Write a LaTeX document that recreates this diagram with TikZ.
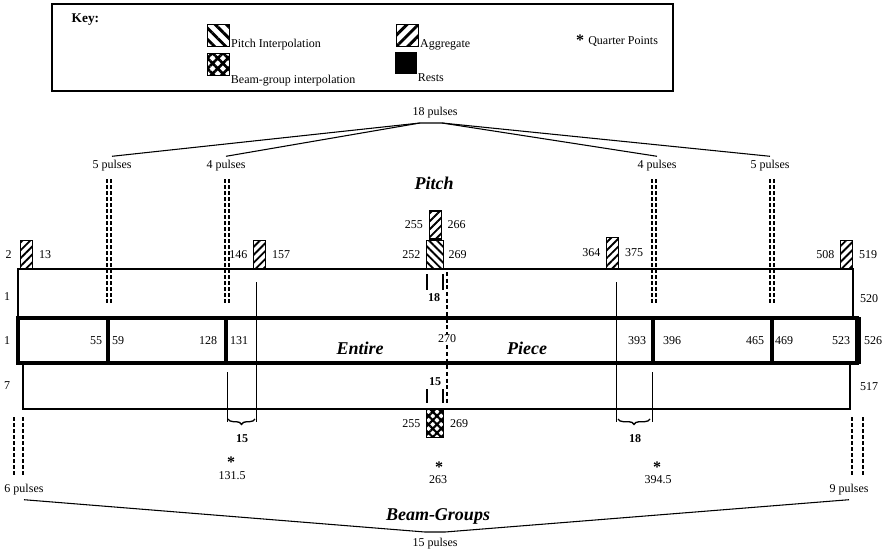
\documentclass[tikz,border=0pt]{standalone}
\usepackage{fontspec}
\setmainfont{Liberation Serif}
\usetikzlibrary{positioning,patterns.meta,decorations.pathreplacing}

\tikzset{
  lbl/.style={font=\fontsize{9}{10}\selectfont, inner sep=1pt},
  boldlbl/.style={font=\fontsize{9}{10}\selectfont\bfseries, inner sep=1pt},
  starlbl/.style={font=\fontsize{12}{12}\selectfont\bfseries, inner sep=0pt},
  bigtitle/.style={font=\fontsize{13.5}{15}\selectfont\bfseries\itshape},
  block/.style={draw, line width=1.1pt, inner sep=0pt, minimum width=9pt, minimum height=21pt, anchor=south west},
  aggbox/.style={block, pattern={Lines[angle=45,distance=4.2pt,line width=1.4pt]}},
  pintbox/.style={block, pattern={Lines[angle=-45,distance=4.2pt,line width=1.4pt]}},
  bintbox/.style={block, pattern={Hatch[angle=45,distance=4.5pt,line width=1.6pt]}},
  keyicon/.style={minimum width=16.5pt, minimum height=16.5pt, anchor=north west},
  pulsedash/.style={dash pattern=on 3pt off 1.5pt, line width=0.9pt},
}

\begin{document}
\begin{tikzpicture}[x=0.75pt,y=-0.75pt,line join=miter]
  \useasboundingbox (0,0) rectangle (887,556);
  \fill[white] (0,0) rectangle (887,556);

  % key
  \draw[line width=0.9pt] (52,4) rectangle (673,91);
  \node[font=\fontsize{10}{11}\selectfont\bfseries, anchor=west] (key) at (67,20) {Key:};
  \node[pintbox, keyicon, pattern={Lines[angle=-45,distance=6pt,line width=2.2pt]}] (kpint) at (206,23) {};
  \node[bintbox, keyicon, pattern={Hatch[angle=45,distance=5.5pt,line width=2pt]}] (kbint) at (206,52) {};
  \node[aggbox, keyicon, pattern={Lines[angle=45,distance=6pt,line width=2.2pt]}] (kagg) at (395,23) {};
  \node[keyicon, fill=black] (krest) at (395,52) {};
  \node[lbl, anchor=base west, inner sep=0pt] (tpint) at (kpint.south east) {Pitch Interpolation};
  \node[lbl, anchor=base west, inner sep=0pt] (tbint) at ([yshift=-5pt]kbint.south east) {Beam-group interpolation};
  \node[lbl, anchor=base west, inner sep=0pt] (tagg) at (kagg.south east) {Aggregate};
  \node[lbl, anchor=base west, inner sep=0pt] (trest) at ([yshift=-5pt]krest.south east) {Rests};
  \node[starlbl] (kstar) at (580,40) {*};
  \node[lbl, anchor=base west, inner sep=0pt] (tquart) at (588,45) {Quarter Points};

  % pulse groupings, pitch
  \node[lbl] (p18) at (435,113) {18 pulses};
  \coordinate (topL) at (420,123);
  \coordinate (topR) at (442,123);
  \node[lbl] (p5a) at (112,166) {5 pulses};
  \node[lbl] (p4a) at (226,166) {4 pulses};
  \node[lbl] (p4b) at (657,166) {4 pulses};
  \node[lbl] (p5b) at (770,166) {5 pulses};
  \draw[line width=0.8pt] ([yshift=2pt]p5a.north) -- (topL) -- (topR) -- ([yshift=2pt]p5b.north);
  \draw[line width=0.8pt] ([yshift=2pt]p4a.north) -- (topL);
  \draw[line width=0.8pt] (topR) -- ([yshift=2pt]p4b.north);
  \foreach \x in {107,111,225,229,652,656,770,774}
    \draw[pulsedash] (\x,179) -- (\x,304);
  \node[bigtitle] (tpitch) at (434,183) {Pitch};

  % bars
  \draw[line width=1.6pt] (18,269) rectangle (853,318);
  \draw[line width=1.1pt] (23,363) -- (23,409) -- (850,409) -- (850,363);
  \draw[line width=2.4pt] (18,318) rectangle (857,363);
  \foreach \x in {108,226,653,772}
    \fill (\x-2,318) rectangle (\x+2,363);
  \fill (855,317) rectangle (861,364);

  % bar end labels
  \node[lbl] (s1) at (7,297) {1};
  \node[lbl] (s2) at (7,341) {1};
  \node[lbl] (s3) at (7,386) {7};
  \node[lbl] (e1) at (869,299) {520};
  \node[lbl] (e2) at (873,341) {526};
  \node[lbl] (e3) at (869,387) {517};

  % entire piece numbers
  \node[lbl] (n55) at (96,341) {55};
  \node[lbl] (n59) at (118,341) {59};
  \node[lbl] (n128) at (208,341) {128};
  \node[lbl] (n131) at (239,341) {131};
  \node[lbl] (n393) at (637,341) {393};
  \node[lbl] (n396) at (672,341) {396};
  \node[lbl] (n465) at (755,341) {465};
  \node[lbl] (n469) at (784,341) {469};
  \node[lbl] (n523) at (841,341) {523};
  \node[bigtitle] (tentire) at (360,348) {Entire};
  \node[bigtitle] (tpiece) at (527,348) {Piece};

  % aggregates and interpolations
  \node[aggbox] (a2) at (20,269) {};
  \node[lbl, left=5pt of a2] (l2) {2};
  \node[lbl, right=3pt of a2] (l13) {13};
  \node[aggbox] (a146) at (253,269) {};
  \node[lbl, left=3pt of a146] (l146) {146};
  \node[lbl, right=3pt of a146] (l157) {157};
  \node[pintbox, minimum width=12.75pt] (p252) at (426,269) {};
  \node[lbl, left=3pt of p252] (l252) {252};
  \node[lbl, right=2pt of p252] (l269) {269};
  \node[aggbox, anchor=south] (a255) at (p252.north) {};
  \node[lbl, left=3pt of a255] (l255) {255};
  \node[lbl, right=3pt of a255] (l266) {266};
  \node[aggbox, minimum height=23pt] (a364) at (606,269) {};
  \node[lbl, left=3pt of a364] (l364) {364};
  \node[lbl, right=3pt of a364] (l375) {375};
  \node[aggbox] (a508) at (840,269) {};
  \node[lbl, left=3pt of a508] (l508) {508};
  \node[lbl, right=3pt of a508] (l519) {519};
  \node[bintbox, minimum width=12.75pt, anchor=north west] (b255) at (426,409) {};
  \node[lbl, left=3pt of b255] (lb255) {255};
  \node[lbl, right=3pt of b255] (lb269) {269};

  % middle marks
  \draw[dash pattern=on 3pt off 2pt, line width=1pt] (447,272) -- (447,404);
  \node[lbl, fill=white] (n270) at (447,339) {270};
  \draw[line width=1.2pt] (427,274) -- (427,290) (443,274) -- (443,290);
  \node[boldlbl] (m18) at (434,298) {18};
  \draw[line width=1.2pt] (427,389) -- (427,403) (443,389) -- (443,403);
  \node[boldlbl] (m15) at (435,382) {15};

  % overlaps
  \draw[line width=0.7pt] (256,282) -- (256,422) (227,372) -- (227,422);
  \draw[line width=0.7pt] (616,282) -- (616,422) (652,372) -- (652,422);
  \draw[decorate, decoration={brace, mirror, amplitude=4pt}, line width=1pt] (228,419) -- (255,419);
  \draw[decorate, decoration={brace, mirror, amplitude=4pt}, line width=1pt] (618,419) -- (650,419);
  \node[boldlbl] (o15) at (242,439) {15};
  \node[boldlbl] (o18) at (635,439) {18};

  % quarter points
  \node[starlbl] (q1) at (231,462) {*};
  \node[lbl] (v1) at (232,476) {131.5};
  \node[starlbl] (q2) at (439,467) {*};
  \node[lbl] (v2) at (438,480) {263};
  \node[starlbl] (q3) at (657,467) {*};
  \node[lbl] (v3) at (658,480) {394.5};

  % pulse groupings, beam-groups
  \foreach \x in {14,23,852,863}
    \draw[pulsedash] (\x,417) -- (\x,475);
  \node[lbl] (p6) at (24,490) {6 pulses};
  \node[lbl] (p9) at (849,490) {9 pulses};
  \node[lbl] (p15) at (435,544) {15 pulses};
  \coordinate (botL) at (425,532);
  \coordinate (botR) at (445,532);
  \draw[line width=0.8pt] ([yshift=-2pt]p6.south) -- (botL) -- (botR) -- ([yshift=-2pt]p9.south);
  \node[bigtitle] (tbeam) at (438,516) {Beam-Groups};
\end{tikzpicture}
\end{document}
